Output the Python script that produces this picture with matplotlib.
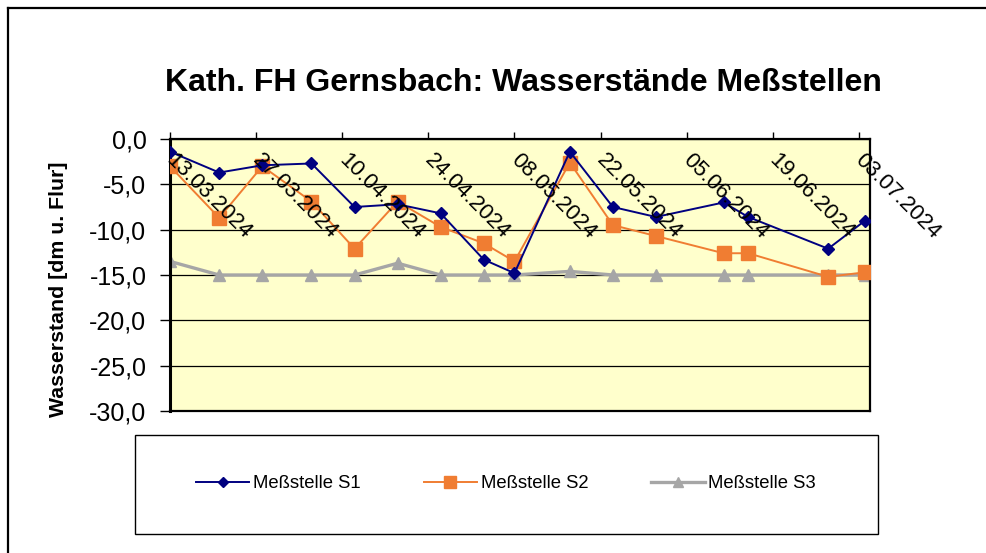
import datetime as dt
import matplotlib
matplotlib.use("Agg")
import matplotlib.pyplot as plt
from matplotlib.lines import Line2D
from matplotlib.patches import Rectangle
from matplotlib.transforms import offset_copy

plt.rcParams["font.family"] = ["Liberation Sans", "DejaVu Sans"]

datum = ["13.03.2024", "21.03.2024", "28.03.2024", "05.04.2024", "12.04.2024",
         "19.04.2024", "26.04.2024", "03.05.2024", "08.05.2024", "17.05.2024",
         "24.05.2024", "31.05.2024", "11.06.2024", "15.06.2024", "28.06.2024",
         "04.07.2024"]
s1 = [-1.4, -3.7, -2.9, -2.7, -7.5, -7.2, -8.2, -13.3, -14.8, -1.4,
      -7.5, -8.6, -7.0, -8.6, -12.1, -9.0]
s2 = [-3.0, -8.7, -3.0, -6.9, -12.1, -6.9, -9.7, -11.5, -13.5, -2.6,
      -9.5, -10.7, -12.6, -12.6, -15.2, -14.7]
s3 = [-13.5, -15.0, -15.0, -15.0, -15.0, -13.7, -15.0, -15.0, -15.0, -14.6,
      -15.0, -15.0, -15.0, -15.0, -15.0, -15.0]
tick_datum = ["13.03.2024", "27.03.2024", "10.04.2024", "24.04.2024", "08.05.2024",
              "22.05.2024", "05.06.2024", "19.06.2024", "03.07.2024"]
y_ticks = [0, -5, -10, -15, -20, -25, -30]

x = [dt.datetime.strptime(d, "%d.%m.%Y") for d in datum]
xt = [dt.datetime.strptime(d, "%d.%m.%Y") for d in tick_datum]

fig = plt.figure(figsize=(9.87, 5.53), dpi=100)
ax = fig.add_axes([170 / 987, 1 - 411 / 553, 700 / 987, 272 / 553])
ax.set_facecolor("#FFFFCC")

l1, = ax.plot(x, s1, color="#000080", lw=1.4, marker="D", ms=6.5, label="Meßstelle S1", zorder=4)
l2, = ax.plot(x, s2, color="#F07D32", lw=1.4, marker="s", ms=9.5, label="Meßstelle S2", zorder=3)
l3, = ax.plot(x, s3, color="#A6A6A6", lw=2.4, marker="^", ms=8.5, label="Meßstelle S3", zorder=2)

ax.set_ylim(-30, 0)
ax.set_yticks(y_ticks)
ax.set_yticklabels([f"{v:.1f}".replace(".", ",") for v in y_ticks], fontsize=18)
ax.yaxis.grid(True, color="black", lw=0.9)
ax.set_axisbelow(True)
ax.set_ylabel("Wasserstand [dm u. Flur]", fontsize=15.3, fontweight="bold")
ax.yaxis.set_label_coords(-0.146, 0.447)

ax.set_xlim(xt[0], xt[-1] + dt.timedelta(days=1.8))
ax.set_xticks(xt)
ax.xaxis.set_ticks_position("top")
ax.tick_params(axis="x", labeltop=False, labelbottom=False, direction="out", length=5, width=1)
ax.tick_params(axis="y", direction="out", length=7, width=1, pad=10)

trans = offset_copy(ax.get_xaxis_transform(), fig=fig, x=5, y=0, units="points")
for d, lab in zip(xt, tick_datum):
    ax.text(d, 0.96, lab, transform=trans, rotation=-45,
            rotation_mode="anchor", ha="left", va="top", fontsize=16, zorder=5)

for s in ax.spines.values():
    s.set_linewidth(1.6)
ax.spines["left"].set_linewidth(2.2)

fig.text(523 / 987, 1 - 83 / 553, "Kath. FH Gernsbach: Wasserstände Meßstellen",
         ha="center", va="center", fontsize=23, fontweight="bold")

# Legendenrahmen
fig.patches.append(Rectangle((135 / 987, 1 - 534 / 553), 743 / 987, 99 / 553,
                             transform=fig.transFigure, fill=False, ec="black", lw=1))
fig.legend(handles=[l1, l2, l3], loc="center", bbox_to_anchor=(506 / 987, 1 - 484 / 553),
           ncol=3, frameon=False, fontsize=13.3, handlelength=2.9, handletextpad=0.2,
           columnspacing=3.4, markerscale=0.85)

# aeusserer Rahmen
fig.add_artist(Line2D([8 / 987, 8 / 987], [0, 1 - 8 / 553], transform=fig.transFigure, color="black", lw=1.6))
fig.add_artist(Line2D([8 / 987, 1], [1 - 8 / 553, 1 - 8 / 553], transform=fig.transFigure, color="black", lw=1.6))

fig.savefig("out.png", dpi=100)
